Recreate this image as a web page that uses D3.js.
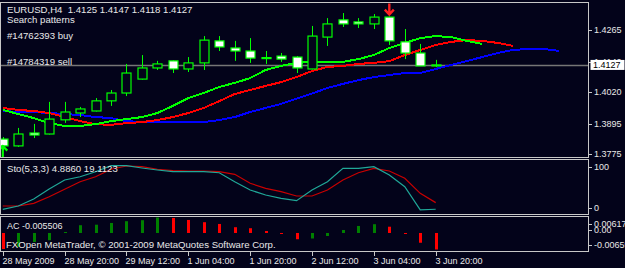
<!DOCTYPE html>
<html>
<head>
<meta charset="utf-8">
<script src="https://cdn.jsdelivr.net/npm/d3@7"></script>
<style>
  html, body { margin: 0; padding: 0; background: #03031a; }
  svg { display: block; }
  text { font-family: "Liberation Sans", Arial, sans-serif; font-size: 9px; fill: #e8e8e8; white-space: pre; }
  text.big { font-size: 9.6px; }
</style>
</head>
<body>
<svg id="chart" width="625" height="268"></svg>
<script>
// EURUSD H4 candles
const open  = [1.3834, 1.3807, 1.3858, 1.3854, 1.3910, 1.3937, 1.3945, 1.3985, 1.4016, 1.4071,
               1.4115, 1.4143, 1.4111, 1.4135, 1.4222, 1.4194, 1.4182, 1.4156, 1.4162, 1.4158,
               1.4111, 1.4237, 1.4305, 1.4297, 1.4289, 1.4316, 1.4218, 1.4174, 1.4125];
const high  = [1.3842, 1.3878, 1.3894, 1.3981, 1.3981, 1.3961, 1.3996, 1.4028, 1.4131, 1.4166,
               1.4143, 1.4145, 1.4158, 1.4241, 1.4241, 1.4222, 1.4233, 1.4182, 1.4174, 1.4162,
               1.4281, 1.4312, 1.4332, 1.4312, 1.4328, 1.4318, 1.4269, 1.4210, 1.4147];
const low   = [1.3791, 1.3803, 1.3838, 1.3852, 1.3898, 1.3921, 1.3943, 1.3965, 1.4004, 1.4069,
               1.4107, 1.4095, 1.4099, 1.4107, 1.4182, 1.4143, 1.4135, 1.4131, 1.4139, 1.4095,
               1.4109, 1.4202, 1.4277, 1.4273, 1.4269, 1.4206, 1.4150, 1.4123, 1.4118];
const close = [1.3807, 1.3854, 1.3850, 1.3913, 1.3941, 1.3953, 1.3985, 1.4016, 1.4095, 1.4115,
               1.4131, 1.4111, 1.4135, 1.4225, 1.4198, 1.4182, 1.4154, 1.4156, 1.4150, 1.4115,
               1.4241, 1.4289, 1.4289, 1.4289, 1.4316, 1.4222, 1.4174, 1.4123, 1.4127];

// alligator lines (shifted forward 3 / 5 / 8 bars)
const lips  = [1.3949, 1.3933, 1.3917, 1.3897, 1.3886, 1.3886, 1.3893, 1.3905, 1.3913, 1.3921,
               1.3937, 1.3965, 1.3996, 1.4016, 1.4040, 1.4056, 1.4075, 1.4107, 1.4123, 1.4135,
               1.4139, 1.4139, 1.4139, 1.4150, 1.4166, 1.4194, 1.4214, 1.4233, 1.4241, 1.4237,
               1.4222, 1.4210];
const teeth = [1.3957, 1.3949, 1.3945, 1.3937, 1.3921, 1.3905, 1.3893, 1.3890, 1.3897, 1.3901,
               1.3909, 1.3921, 1.3937, 1.3957, 1.3984, 1.4012, 1.4028, 1.4044, 1.4059, 1.4079,
               1.4103, 1.4119, 1.4123, 1.4131, 1.4135, 1.4142, 1.4166, 1.4186, 1.4206, 1.4218,
               1.4225, 1.4222, 1.4214, 1.4202];
const jaw   = [1.3945, 1.3941, 1.3941, 1.3937, 1.3933, 1.3929, 1.3921, 1.3917, 1.3905, 1.3901,
               1.3901, 1.3901, 1.3901, 1.3901, 1.3909, 1.3921, 1.3941, 1.3957, 1.3973, 1.3994,
               1.4014, 1.4036, 1.4052, 1.4067, 1.4079, 1.4087, 1.4095, 1.4095, 1.4111, 1.4127,
               1.4142, 1.4158, 1.4174, 1.4186, 1.4190, 1.4190, 1.4182];

// Stochastic(5,3,3)
const stochMain   = [4.7, 11.8, 26.9, 48.4, 67.7, 74.8, 85.6, 98.5, 98.5, 93.5,
                     89.2, 85.6, 85.6, 85.6, 83.4, 64.1, 46.2, 35.5, 28.4, 23.2,
                     46.2, 64.1, 92.9, 92.9, 96.3, 78.5, 53.3, 3.5, 4.886];
const stochSignal = [11.8, 11.8, 17.6, 31.8, 47.7, 64.1, 74.8, 90.8, 97.8, 96.3,
                     90.8, 87.7, 87.1, 87.1, 85.6, 80.0, 60.6, 49.9, 42.6, 33.3,
                     33.3, 46.2, 67.7, 83.4, 92.9, 87.1, 71.4, 39.1, 19.11];

// Accelerator oscillator
const acValues = [-0.0064, -0.0056, -0.0036, -0.0029, 0.0004, 0.0031, 0.0033, 0.0040, 0.0047, 0.0051,
                  0.006175, 0.0060, 0.0052, 0.0043, 0.0036, 0.0023, 0.0019, 0.0008, -0.0003, -0.0025,
                  -0.0022, -0.0012, 0.0012, 0.0028, 0.0035, 0.0025, -0.0004, -0.0039, -0.00659];

// axes
const priceTicks = [1.4265, 1.4140, 1.4020, 1.3895, 1.3775];
const lastPrice = 1.4127;
const stochTicks = [100, 0];
const acTicks = [0.006175, 0, -0.00659];
const acTickLabels = ['0.006175', '0.00', '-0.00659'];
const timeTickBars = [0, 4, 8, 12, 16, 20, 24, 28];
const timeTickLabels = ['28 May 2009', '28 May 20:00', '29 May 12:00', '1 Jun 04:00',
                        '1 Jun 20:00', '2 Jun 12:00', '3 Jun 04:00', '3 Jun 20:00'];

// trade marks
const buyMark = { bar: 0, price: 1.3810 };
const sellMark = { bar: 25, price: 1.4322 };

const BG = '#03031a';
const FRAME = '#c8c8c8';
const CANDLE = '#00ff00';

const svg = d3.select('#chart');
svg.append('rect').attr('width', 625).attr('height', 268).attr('fill', BG);

const x = d3.scaleLinear().domain([0, 28]).range([2.8, 435.7]);
const yP = d3.scaleLinear().domain([1.3775, 1.4265]).range([154, 30]);
const yS = d3.scaleLinear().domain([0, 100]).range([211.5, 165]);
const yA = d3.scaleLinear().domain([-0.00659, 0.006175]).range([249.5, 217.5]);

const left = 0.5, right = 588.5;
const panels = [
  { id: 'main', top: 2.5, bottom: 157.5 },
  { id: 'sto', top: 159.5, bottom: 214.5 },
  { id: 'ac', top: 216.5, bottom: 251.5 }
];

const defs = svg.append('defs');
const layer = {};
panels.forEach(p => {
  defs.append('clipPath').attr('id', 'clip-' + p.id)
    .append('rect').attr('x', left + 0.5).attr('y', p.top + 0.5)
    .attr('width', right - left - 1).attr('height', p.bottom - p.top - 1);
  layer[p.id] = svg.append('g').attr('clip-path', `url(#clip-${p.id})`);
});

// ===== main panel
const gm = layer.main;
const py = Math.round(yP(lastPrice)) + 0.5;
gm.append('line').attr('x1', left).attr('x2', right).attr('y1', py).attr('y2', py)
  .attr('stroke', '#767676').attr('stroke-width', 1.3);

const maLine = d3.line().x((d, i) => x(i)).y(d => yP(d));
[[jaw, '#0000ff'], [teeth, '#ff0000'], [lips, '#00ff00']].forEach(([s, c]) => {
  gm.append('path').datum(s).attr('d', maLine).attr('fill', 'none')
    .attr('stroke', c).attr('stroke-width', 2).attr('shape-rendering', 'crispEdges');
});

const candles = open.map((o, i) => ({ i, o, h: high[i], l: low[i], c: close[i] }));
const cg = gm.selectAll('g.candle').data(candles).enter().append('g').attr('class', 'candle');
cg.append('line')
  .attr('x1', d => Math.round(x(d.i)) + 0.5).attr('x2', d => Math.round(x(d.i)) + 0.5)
  .attr('y1', d => yP(d.h)).attr('y2', d => yP(d.l))
  .attr('stroke', CANDLE).attr('stroke-width', 1);
cg.append('rect')
  .attr('x', d => Math.round(x(d.i)) - 4)
  .attr('width', 9)
  .attr('y', d => yP(Math.max(d.o, d.c)))
  .attr('height', d => Math.max(1, Math.abs(yP(d.o) - yP(d.c))))
  .attr('fill', d => d.c > d.o ? BG : '#ffffff')
  .attr('stroke', CANDLE).attr('stroke-width', 1.2);

// buy arrow (up, green) and sell arrow (down, red)
const bx = x(buyMark.bar), by = yP(buyMark.price);
gm.append('path')
  .attr('d', `M${bx},${by + 14} L${bx},${by + 1} M${bx - 4.5},${by + 5.5} L${bx},${by + 1} L${bx + 4.5},${by + 5.5}`)
  .attr('fill', 'none').attr('stroke', '#00ff00').attr('stroke-width', 2.2);
const sx = x(sellMark.bar), sy = yP(sellMark.price);
gm.append('path')
  .attr('d', `M${sx},${sy - 12} L${sx},${sy - 1} M${sx - 4.5},${sy - 6} L${sx},${sy - 1} L${sx + 4.5},${sy - 6}`)
  .attr('fill', 'none').attr('stroke', '#ff2020').attr('stroke-width', 2.4);

const mainTexts = [
  ['EURUSD,H4  1.4125 1.4147 1.4118 1.4127', 10],
  ['Search patterns', 20],
  ['#14762393 buy', 36],
  ['#14784319 sell', 62]
];
mainTexts.forEach(([t, yy]) => {
  svg.append('text').attr('class', 'big').attr('x', 7).attr('y', yy).attr('dy', '0.35em').text(t);
});

// ===== stochastic panel
const stoLine = d3.line().x((d, i) => x(i)).y(d => yS(d));
layer.sto.append('path').datum(stochSignal).attr('d', stoLine).attr('fill', 'none')
  .attr('stroke', '#c80000').attr('stroke-width', 1.2);
layer.sto.append('path').datum(stochMain).attr('d', stoLine).attr('fill', 'none')
  .attr('stroke', '#20a898').attr('stroke-width', 1.2);
svg.append('text').attr('class', 'big').attr('x', 7).attr('y', 168.5).attr('dy', '0.35em')
  .text('Sto(5,3,3) 4.8860 19.1123');

// ===== AC panel
layer.ac.selectAll('rect.acbar').data(acValues).enter().append('rect')
  .attr('class', 'acbar')
  .attr('x', (d, i) => Math.round(x(i)) - 1)
  .attr('width', 3)
  .attr('y', d => Math.min(yA(0), yA(d)))
  .attr('height', d => Math.max(1, Math.abs(yA(d) - yA(0))))
  .attr('fill', (d, i) => i > 0 && d > acValues[i - 1] ? '#008000' : '#ff0000');
svg.append('text').attr('x', 7).attr('y', 226).attr('dy', '0.35em').text('AC -0.005506');
svg.append('text').attr('class', 'big').attr('x', 6).attr('y', 244.5).attr('dy', '0.35em')
  .text('FXOpen MetaTrader, \u00a9 2001-2009 MetaQuotes Software Corp.');

// ===== frames
panels.forEach(p => {
  svg.append('rect').attr('x', left).attr('y', p.top)
    .attr('width', right - left).attr('height', p.bottom - p.top)
    .attr('fill', 'none').attr('stroke', FRAME).attr('stroke-width', 1);
});

// ===== right axis
const ra = svg.append('g');
function rightLabel(yy, t) {
  ra.append('line').attr('x1', 589).attr('x2', 592).attr('y1', Math.round(yy) + 0.5).attr('y2', Math.round(yy) + 0.5)
    .attr('stroke', FRAME);
  ra.append('text').attr('x', 594).attr('y', yy).attr('dy', '0.35em').text(t);
}
priceTicks.forEach(v => rightLabel(yP(v), v.toFixed(4)));
const ly = yP(lastPrice);
ra.append('rect').attr('x', 590.5).attr('y', ly - 5).attr('width', 34).attr('height', 10)
  .attr('fill', '#ffffff');
ra.append('text').attr('x', 593).attr('y', ly).attr('dy', '0.35em').style('fill', '#000000')
  .text(lastPrice.toFixed(4));

const clampY = (yy, p) => Math.max(p.top + 7, Math.min(p.bottom - 6.5, yy));
stochTicks.forEach(v => rightLabel(clampY(yS(v), panels[1]), String(v)));
acTicks.forEach((v, i) => rightLabel(clampY(yA(v) - 3, panels[2]), acTickLabels[i]));

// ===== time axis
const ta = svg.append('g');
timeTickBars.forEach((b, i) => {
  const tx = Math.round(x(b)) + 0.5;
  ta.append('line').attr('x1', tx).attr('x2', tx).attr('y1', 252).attr('y2', 256).attr('stroke', FRAME);
  ta.append('text').attr('x', tx - 1).attr('y', 260.5).attr('dy', '0.35em').text(timeTickLabels[i]);
});
</script>
</body>
</html>
